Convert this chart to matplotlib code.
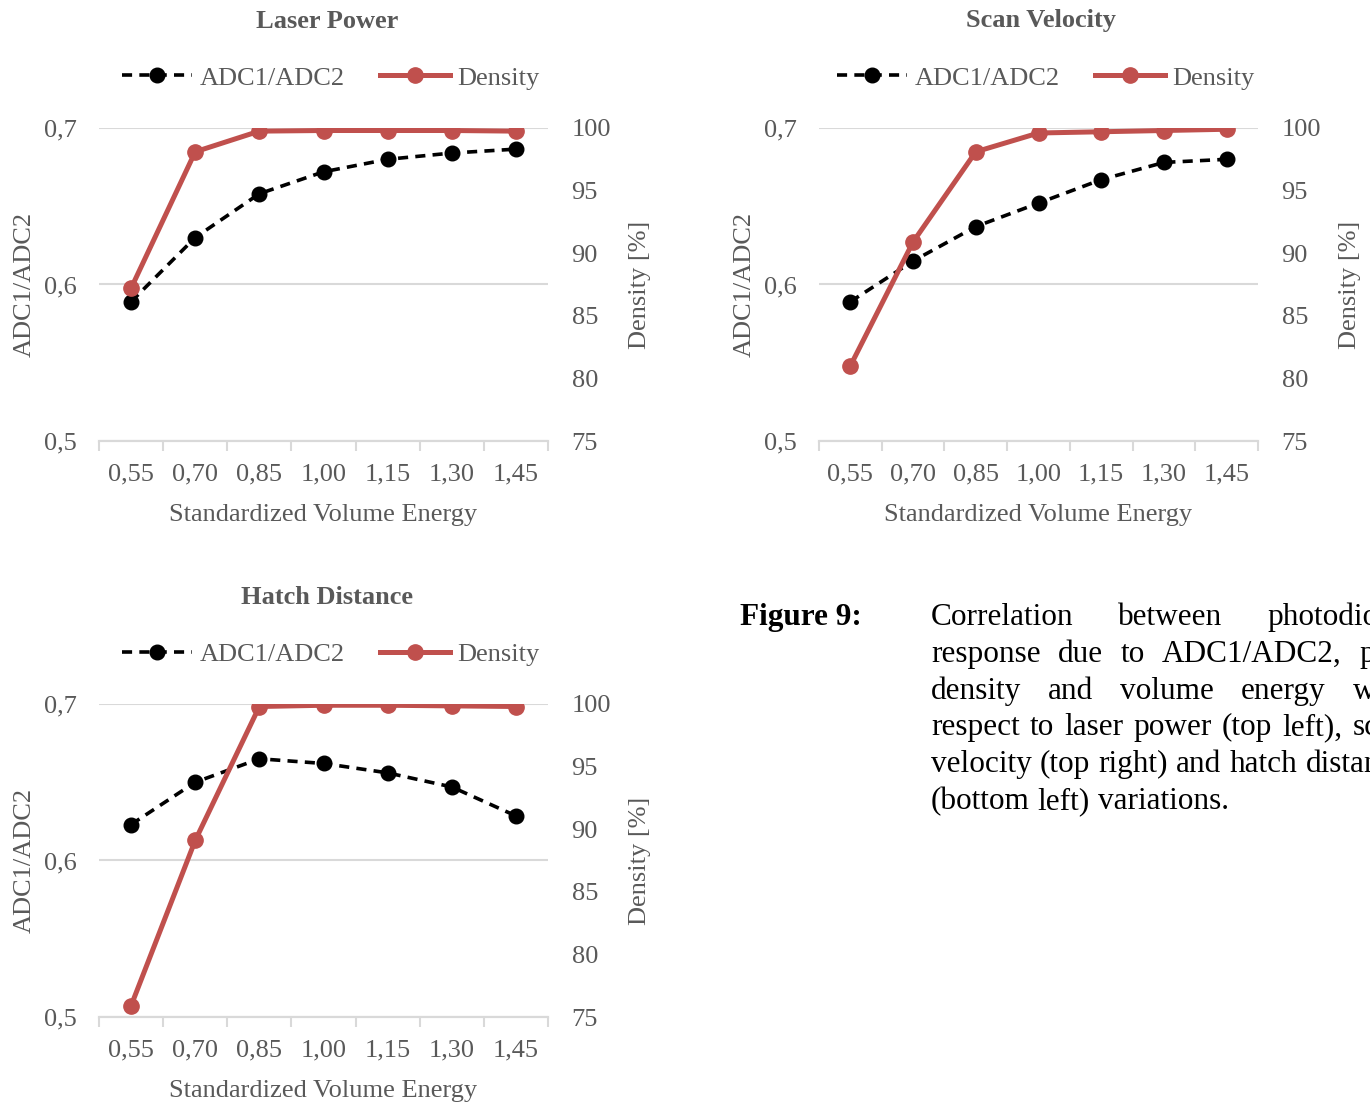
import matplotlib
matplotlib.use('Agg')
import matplotlib.pyplot as plt
import numpy as np

# ---------------- data ----------------
categories = ['0,55', '0,70', '0,85', '1,00', '1,15', '1,30', '1,45']
lp_adc = [0.589, 0.630, 0.658, 0.672, 0.680, 0.684, 0.6865]
lp_density = [87.2, 98.1, 99.75, 99.8, 99.8, 99.8, 99.75]
sv_adc = [0.589, 0.615, 0.637, 0.652, 0.667, 0.678, 0.680]
sv_density = [81.0, 90.9, 98.1, 99.6, 99.7, 99.8, 99.9]
hd_adc = [0.623, 0.650, 0.665, 0.662, 0.656, 0.647, 0.6285]
hd_density = [75.9, 89.1, 99.8, 99.9, 99.9, 99.85, 99.8]
titles = ['Laser Power', 'Scan Velocity', 'Hatch Distance']
left_ticks = [0.5, 0.6, 0.7]
left_ticklabels = ['0,5', '0,6', '0,7']
right_ticks = [75, 80, 85, 90, 95, 100]
series_names = ['ADC1/ADC2', 'Density']
xlabel = 'Standardized Volume Energy'
ylabel_left = 'ADC1/ADC2'
ylabel_right = 'Density [%]'
caption_head = 'Figure 9:'
caption_lines = [
    ['Correlation', 'between', 'photodiode'],
    ['response', 'due', 'to', 'ADC1/ADC2,', 'part'],
    ['density', 'and', 'volume', 'energy', 'with'],
    ['respect', 'to', 'laser', 'power', '(top', 'left),', 'scan'],
    ['velocity', '(top', 'right)', 'and', 'hatch', 'distance'],
    ['(bottom', 'left)', 'variations.'],
]

# ---------------- style ----------------
W, H = 1370, 1103
FONT = 'Liberation Serif'
GRAY = '#595959'
GRID = '#D9D9D9'
RED = '#C0504D'
FS = 19

plt.rcParams['font.family'] = [FONT, 'DejaVu Serif']

fig = plt.figure(figsize=(W / 100, H / 100), dpi=100)


def rect(x0, y0, x1, y1):
    return [x0 / W, 1 - y1 / H, (x1 - x0) / W, (y1 - y0) / H]


panels = [(99, 128, 548, 441), (819, 128, 1258, 441), (99, 704, 548, 1017)]
title_pos = [(327, 21), (1041, 21), (327, 597)]
adc_data = [lp_adc, sv_adc, hd_adc]
den_data = [lp_density, sv_density, hd_density]

for i, (x0, y0, x1, y1) in enumerate(panels):
    ax = fig.add_axes(rect(x0, y0, x1, y1))
    ax2 = ax.twinx()
    x = np.arange(len(categories))
    l1, = ax.plot(x, adc_data[i], color='black', lw=2.6, ls=(0, (2.8, 2.0)),
                  marker='o', ms=10.5, label=series_names[0], zorder=3)
    l2, = ax2.plot(x, den_data[i], color=RED, lw=3.6, marker='o', ms=11,
                   label=series_names[1], zorder=3)
    ax.set_xlim(-0.5, len(categories) - 0.5)
    ax.set_ylim(0.5, 0.7)
    ax2.set_ylim(75, 100)
    ax.set_yticks(left_ticks)
    ax.set_yticklabels(left_ticklabels)
    ax2.set_yticks(right_ticks)
    ax2.set_yticklabels([str(v) for v in right_ticks])
    ax.set_xticks(x)
    ax.set_xticklabels(categories)
    ax.set_xticks(np.arange(-0.5, len(categories), 1), minor=True)
    for a in (ax, ax2):
        for s in ('top', 'left', 'right'):
            a.spines[s].set_visible(False)
        a.spines['bottom'].set_color(GRID)
        a.spines['bottom'].set_linewidth(1.5)
    ax.yaxis.grid(True, color=GRID, lw=1.5, zorder=0)
    ax.set_axisbelow(True)
    ax.tick_params(axis='y', length=0, pad=16, labelsize=FS, labelcolor=GRAY)
    ax2.tick_params(axis='y', length=0, pad=17, labelsize=FS, labelcolor=GRAY)
    ax.tick_params(axis='x', which='major', length=0, pad=16.5, labelsize=FS,
                   labelcolor=GRAY)
    ax.tick_params(axis='x', which='minor', length=7, width=1.5, color=GRID,
                   direction='out')
    ax.set_xlabel(xlabel, fontsize=FS, color=GRAY, labelpad=13)
    ax.set_ylabel(ylabel_left, fontsize=FS, color=GRAY, labelpad=6)
    ax2.set_ylabel(ylabel_right, fontsize=FS, color=GRAY, labelpad=13)
    width_px = x1 - x0
    leg = ax2.legend(handles=[l1, l2], loc='center', ncol=2, frameon=False,
                     bbox_to_anchor=(0.5 + 7.5 / width_px, 1 + 50 / (y1 - y0)),
                     fontsize=FS, handlelength=2.65, handletextpad=0.27,
                     columnspacing=1.35, borderpad=0, borderaxespad=0)
    for t in leg.get_texts():
        t.set_color(GRAY)
    tx, ty = title_pos[i]
    fig.text(tx / W, 1 - ty / H, titles[i], ha='center', va='center',
             fontsize=FS, fontweight='bold', color=GRAY)

# ---------------- caption ----------------
CFS = 22.5
fig.text(740 / W, 1 - 625 / H, caption_head, ha='left', va='baseline',
         fontsize=CFS, fontweight='bold', color='black')
renderer = fig.canvas.get_renderer()
left_x, right_x = 931, 1408
baselines = [625, 662, 699, 735, 772, 809]
for li, words in enumerate(caption_lines):
    texts = [fig.text(0, 1 - baselines[li] / H, w, ha='left', va='baseline',
                      fontsize=CFS, color='black') for w in words]
    widths = [t.get_window_extent(renderer).width for t in texts]
    if li < len(caption_lines) - 1 and len(words) > 1:
        gap = (right_x - left_x - sum(widths)) / (len(words) - 1)
    else:
        gap = 0.25 * CFS * 100 / 72
    xpos = left_x
    for t, w in zip(texts, widths):
        t.set_x(xpos / W)
        xpos += w + gap

fig.savefig('out.png', dpi=100)
